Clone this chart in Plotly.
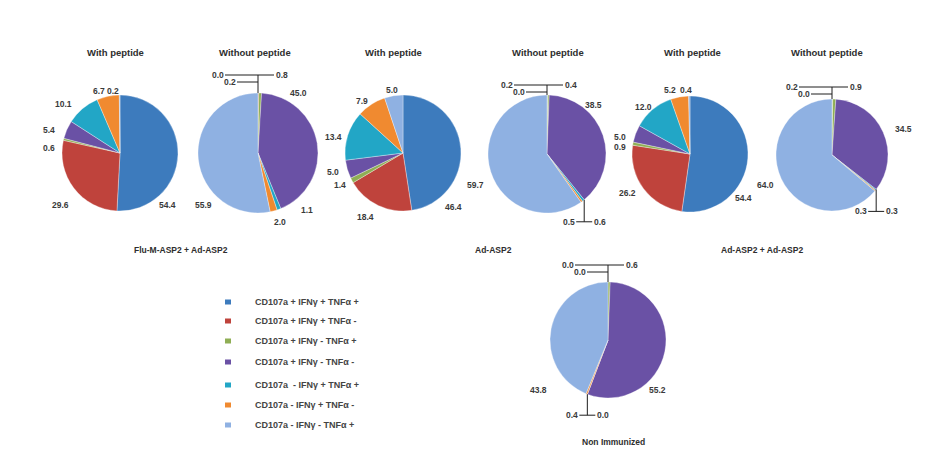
import math
import plotly.graph_objects as go

W, H = 925, 458

# Polyfunctional CD8+ T cell subsets (% of responding cells)
categories = [
    "CD107a + IFNγ + TNFα +",
    "CD107a + IFNγ + TNFα -",
    "CD107a + IFNγ - TNFα +",
    "CD107a + IFNγ - TNFα -",
    "CD107a  - IFNγ + TNFα +",
    "CD107a - IFNγ + TNFα -",
    "CD107a - IFNγ - TNFα +",
]
colors = ["#3d7bbd", "#bf433c", "#8fae55", "#6a51a5", "#22a6c6", "#f08a30", "#8fb1e2"]

flu_with = [54.4, 29.6, 0.6, 5.4, 10.1, 6.7, 0.2]
flu_without = [0.0, 0.2, 0.8, 45.0, 1.1, 2.0, 55.9]
ad_with = [46.4, 18.4, 1.4, 5.0, 13.4, 7.9, 5.0]
ad_without = [0.2, 0.0, 0.4, 38.5, 0.6, 0.5, 59.7]
adad_with = [54.4, 26.2, 0.9, 5.0, 12.0, 5.2, 0.4]
adad_without = [0.2, 0.0, 0.9, 34.5, 0.3, 0.3, 64.0]
non_immunized = [0.0, 0.0, 0.6, 55.2, 0.0, 0.4, 43.8]

groups = ["Flu-M-ASP2 + Ad-ASP2", "Ad-ASP2", "Ad-ASP2 + Ad-ASP2"]
panel_titles = ["With peptide", "Without peptide"]

# pie placement (pixels), label offsets from the pie centre
pies = [
    dict(values=flu_with, cx=120, cy=153, r=58, title=panel_titles[0], tx=115,
         offsets={0: (47, 52), 1: (-60, 52), 2: (-71, -5), 3: (-71, -23),
                  4: (-57, -49), 5: (-21, -62), 6: (-7, -62)}),
    dict(values=flu_without, cx=258, cy=153, r=60, title=panel_titles[1], tx=255,
         offsets={3: (40, -60), 4: (49, 57), 5: (22, 69), 6: (-55, 52)},
         top=18),
    dict(values=ad_with, cx=403, cy=153, r=58, title=panel_titles[0], tx=393,
         offsets={0: (50, 54), 1: (-38, 64), 2: (-63, 32), 3: (-70, 19),
                  4: (-70, -16), 5: (-41, -52), 6: (-11, -63)}),
    dict(values=ad_without, cx=547, cy=154, r=59, title=panel_titles[1], tx=548,
         offsets={3: (46, -49), 6: (-72, 31)}, top=10, bottom=22),
    dict(values=adad_with, cx=690, cy=154, r=58, title=panel_titles[0], tx=692,
         offsets={0: (53, 44), 1: (-63, 39), 2: (-70, -7), 3: (-70, -17),
                  4: (-47, -47), 5: (-20, -64), 6: (-4, -64)}),
    dict(values=adad_without, cx=832, cy=155, r=56, title=panel_titles[1], tx=827,
         offsets={3: (71, -26), 6: (-67, 30)}, top=12, bottom=22),
    dict(values=non_immunized, cx=608, cy=340, r=58, title=None,
         offsets={3: (49, 50), 6: (-70, 50)}, top=17, bottom=21),
]


def px(x):
    return x / W


def py(y):
    return 1 - y / H


fig = go.Figure()
annotations = []
shapes = []

label_font = dict(family="Liberation Sans, Arial, sans-serif", size=8.5, color="#3a3a3a")
title_font = dict(family="Liberation Sans, Arial, sans-serif", size=9.5, color="#2e2e2e")


def add_text(x, y, text, font=label_font, xanchor="center"):
    annotations.append(dict(x=px(x), y=py(y), xref="paper", yref="paper", text=text,
                            showarrow=False, font=font, xanchor=xanchor, yanchor="middle"))


def add_line(x0, y0, x1, y1):
    shapes.append(dict(type="line", xref="paper", yref="paper",
                       x0=px(x0), y0=py(y0), x1=px(x1), y1=py(y1),
                       line=dict(color="#1e1e1e", width=1)))


for p in pies:
    cx, cy, r, vals = p["cx"], p["cy"], p["r"], p["values"]
    fig.add_trace(go.Pie(
        values=vals, labels=categories, sort=False, direction="clockwise", rotation=0,
        marker=dict(colors=colors, line=dict(color="rgba(255,255,255,0.55)", width=0.6)),
        textinfo="none", hoverinfo="label+value", showlegend=False,
        domain=dict(x=[px(cx - r), px(cx + r)], y=[py(cy + r), py(cy - r)]),
    ))
    for i, (dx, dy) in p["offsets"].items():
        add_text(cx + dx, cy + dy, f"<b>{vals[i]:.1f}</b>")
    if p["title"]:
        add_text(p["tx"], 52, f"<b>{p['title']}</b>", font=title_font)

    # bracket for the three near-zero slices at 12 o'clock
    if "top" in p:
        yt = cy - r - p["top"]
        add_line(cx, cy - r, cx, yt)
        add_line(cx - 33, yt, cx + 16, yt)
        add_line(cx - 21, yt + 7, cx, yt + 7)
        add_text(cx - 40, yt, f"<b>{vals[0]:.1f}</b>")
        add_text(cx - 28, yt + 7, f"<b>{vals[1]:.1f}</b>")
        add_text(cx + 24, yt, f"<b>{vals[2]:.1f}</b>")

    # bracket for the two slivers that follow the CD107a+ IFNγ- TNFα- slice
    if "bottom" in p:
        total = sum(vals)
        frac = sum(vals[:4]) / total
        ang = 2 * math.pi * frac
        bx = cx + r * math.sin(ang)
        by = cy - r * math.cos(ang)
        yb = by + p["bottom"]
        add_line(bx, by, bx, yb)
        add_line(bx - 8, yb, bx + 8, yb)
        add_text(bx - 15, yb, f"<b>{vals[5]:.1f}</b>")
        add_text(bx + 16, yb, f"<b>{vals[4]:.1f}</b>")

# group captions
group_font = dict(family="Liberation Sans, Arial, sans-serif", size=8.5, color="#2e2e2e")
for g, gx in zip(groups, [181, 493, 762]):
    add_text(gx, 250, f"<b>{g}</b>", font=group_font)
add_text(613, 442, "<b>Non Immunized</b>", font=group_font)

# legend
legend_font = dict(family="Liberation Sans, Arial, sans-serif", size=9, color="#444444")
legend_rows = [302, 321, 341, 362, 385, 405, 425]
for cat, col, ly in zip(categories, colors, legend_rows):
    shapes.append(dict(type="rect", xref="paper", yref="paper",
                       x0=px(225), x1=px(231), y0=py(ly + 2.5), y1=py(ly - 2.5),
                       fillcolor=col, line=dict(width=0)))
    add_text(253, ly, f"<b>{cat}</b>", font=legend_font, xanchor="left")

fig.update_layout(
    width=W, height=H, margin=dict(l=0, r=0, t=0, b=0),
    paper_bgcolor="white", plot_bgcolor="white",
    annotations=annotations, shapes=shapes, showlegend=False,
)

fig.write_html("out.html")
